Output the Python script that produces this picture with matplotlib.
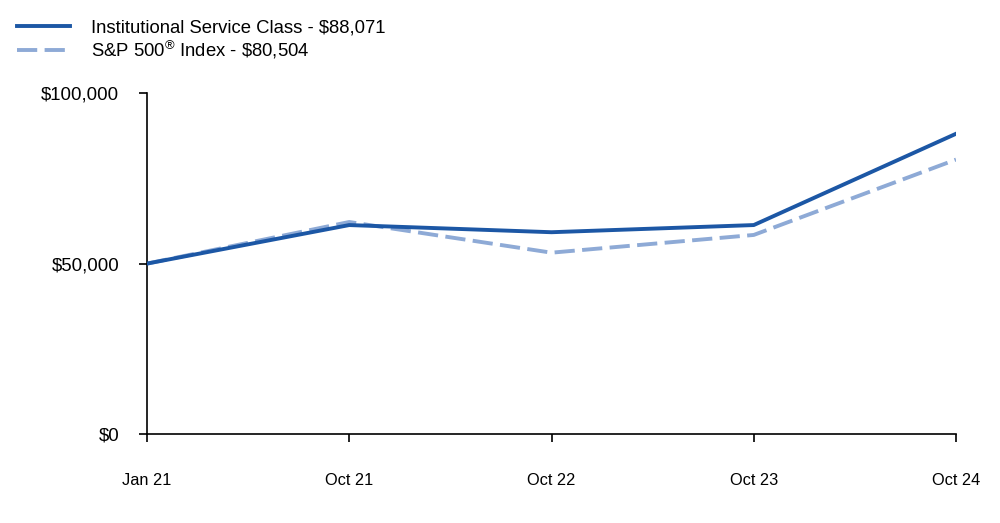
import matplotlib.pyplot as plt
from matplotlib.ticker import FuncFormatter

plt.rcParams['font.family'] = ['Liberation Sans', 'DejaVu Sans']
plt.rcParams['mathtext.fontset'] = 'custom'
plt.rcParams['mathtext.rm'] = 'Liberation Sans'

dates = ['Jan 21', 'Oct 21', 'Oct 22', 'Oct 23', 'Oct 24']
fund = [50000, 61300, 59200, 61300, 88071]
index = [50000, 62200, 53200, 58400, 80504]

fig = plt.figure(figsize=(10, 5.23), dpi=100)
ax = fig.add_axes([0.147, 0.170, 0.809, 0.652])

x = range(len(dates))
l2, = ax.plot(x, index, color='#8eaad6', lw=2.8, ls=(0, (5.2, 1.9)), zorder=2,
              label='S&P 500$^{\\mathrm{®}}$ Index - \\$80,504')
l1, = ax.plot(x, fund, color='#1c57a5', lw=2.8, zorder=3,
              label='Institutional Service Class - \\$88,071')

ax.set_xlim(0, len(dates) - 1)
ax.set_ylim(0, 100000)
ax.set_xticks(list(x))
ax.set_xticklabels(dates, fontsize=11.8)
ax.set_yticks([0, 50000, 100000])
ax.yaxis.set_major_formatter(FuncFormatter(lambda v, p: '${:,.0f}'.format(v)))
ax.tick_params(axis='y', labelsize=13.4, length=6, width=1.2, pad=14)
ax.tick_params(axis='x', length=6, width=1.2, pad=22)
for s in ['top', 'right']:
    ax.spines[s].set_visible(False)
for s in ['left', 'bottom']:
    ax.spines[s].set_linewidth(1.2)

# legend sits at the top left of the figure
fig.legend(handles=[l1, l2], loc='upper left', bbox_to_anchor=(0.0, 0.994),
           frameon=False, fontsize=13.3, handlelength=2.9, handletextpad=1.1,
           labelspacing=0.12)

fig.savefig('out.png', dpi=100)
